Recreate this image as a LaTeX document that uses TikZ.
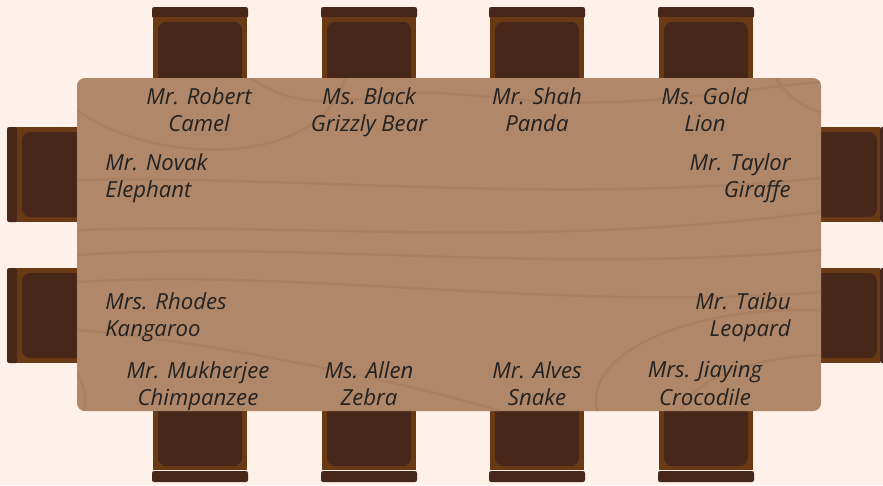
\documentclass[tikz,border=0pt]{standalone}
\usepackage{fontspec}
\setmainfont{Open Sans}
\usetikzlibrary{positioning}
\definecolor{PaperCream}{HTML}{FDF1EA}
\definecolor{TableWood}{HTML}{B08769}
\definecolor{WoodGrain}{HTML}{A97F62}
\definecolor{ChairDark}{HTML}{46271A}
\definecolor{ChairFrame}{HTML}{6A3A15}
\definecolor{InkGray}{HTML}{222222}
\tikzset{
  chairframe/.style={fill=ChairFrame},
  chairback/.style={fill=ChairDark, rounded corners=1.2pt},
  cushion/.style={fill=ChairDark, rounded corners=4.5pt},
  tabletop/.style={fill=TableWood, rounded corners=4.5pt},
  grain/.style={draw=WoodGrain, line width=1.3pt},
  guest/.style={font=\fontsize{12.6}{15.6}\selectfont\itshape, text=InkGray, inner sep=0pt, align=center, anchor=north},
  guestleft/.style={guest, align=left, anchor=north west},
  guestright/.style={guest, align=right, anchor=north east}
}

\begin{document}
\begin{tikzpicture}[x=0.02cm, y=-0.02cm]
\fill[PaperCream] (0,0) rectangle (883,485);
\useasboundingbox (0,0) rectangle (883,485);

\fill[chairback] (152,7) rectangle (248,18);
\fill[chairframe] (153,17) rectangle (247,90);
\fill[cushion] (158,22) rectangle (242,100);
\fill[chairback] (321,7) rectangle (417,18);
\fill[chairframe] (322,17) rectangle (416,90);
\fill[cushion] (327,22) rectangle (411,100);
\fill[chairback] (489,7) rectangle (585,18);
\fill[chairframe] (490,17) rectangle (584,90);
\fill[cushion] (495,22) rectangle (579,100);
\fill[chairback] (658,7) rectangle (754,18);
\fill[chairframe] (659,17) rectangle (753,90);
\fill[cushion] (664,22) rectangle (748,100);

\fill[chairback] (152,471) rectangle (248,482);
\fill[chairframe] (153,400) rectangle (247,470);
\fill[cushion] (158,390) rectangle (242,466);
\fill[chairback] (321,471) rectangle (417,482);
\fill[chairframe] (322,400) rectangle (416,470);
\fill[cushion] (327,390) rectangle (411,466);
\fill[chairback] (489,471) rectangle (585,482);
\fill[chairframe] (490,400) rectangle (584,470);
\fill[cushion] (495,390) rectangle (579,466);
\fill[chairback] (658,471) rectangle (754,482);
\fill[chairframe] (659,400) rectangle (753,470);
\fill[cushion] (664,390) rectangle (748,466);

\fill[chairback] (7,127) rectangle (18,222);
\fill[chairframe] (17,127) rectangle (90,222);
\fill[cushion] (22,132) rectangle (100,217);
\fill[chairback] (7,268) rectangle (18,363);
\fill[chairframe] (17,268) rectangle (90,363);
\fill[cushion] (22,273) rectangle (100,358);

\fill[chairback] (880,127) rectangle (891,222);
\fill[chairframe] (810,127) rectangle (880,222);
\fill[cushion] (800,132) rectangle (877,217);
\fill[chairback] (880,268) rectangle (891,363);
\fill[chairframe] (810,268) rectangle (880,363);
\fill[cushion] (800,273) rectangle (877,358);

\fill[tabletop] (77,78) rectangle (821,411);
\begin{scope}
\clip[rounded corners=4.5pt] (77,78) rectangle (821,411);
\draw[grain] (77,110) .. controls (150,165) and (320,170) .. (345,78);
\draw[grain] (250,78) .. controls (280,95) and (300,110) .. (390,95) .. controls (450,85) and (520,110) .. (650,100) .. controls (720,95) and (780,85) .. (821,82);
\draw[grain] (776,78) .. controls (790,100) and (805,108) .. (821,112);
\draw[grain] (77,180) .. controls (300,175) and (550,205) .. (821,178);
\draw[grain] (77,230) .. controls (300,222) and (520,250) .. (821,212);
\draw[grain] (77,255) .. controls (300,240) and (550,275) .. (821,250);
\draw[grain] (77,282) .. controls (300,268) and (560,312) .. (821,292);
\draw[grain] (77,330) .. controls (200,340) and (400,380) .. (500,411);
\draw[grain] (800,400) ellipse [x radius=204, y radius=90];
\draw[grain] (830,420) ellipse [x radius=150, y radius=65];
\draw[grain] (60,400) ellipse [x radius=25, y radius=35];
\end{scope}

\node[guest] (robert) at (199,87) {Mr. Robert\\Camel};
\node[guest] (black) at (369,87) {Ms. Black\\Grizzly Bear};
\node[guest] (shah) at (537,87) {Mr. Shah\\Panda};
\node[guest] (gold) at (705,87) {Ms. Gold\\Lion};
\node[guestleft] (novak) at (105,153) {Mr. Novak\\Elephant};
\node[guestright] (taylor) at (791,153) {Mr. Taylor\\Giraffe};
\node[guestleft] (rhodes) at (105,292) {Mrs. Rhodes\\Kangaroo};
\node[guestright] (taibu) at (791,292) {Mr. Taibu\\Leopard};
\node[guest] (mukherjee) at (198,361) {Mr. Mukherjee\\Chimpanzee};
\node[guest] (allen) at (369,361) {Ms. Allen\\Zebra};
\node[guest] (alves) at (537,361) {Mr. Alves\\Snake};
\node[guest] (jiaying) at (705,361) {Mrs. Jiaying\\Crocodile};
\end{tikzpicture}
\end{document}
